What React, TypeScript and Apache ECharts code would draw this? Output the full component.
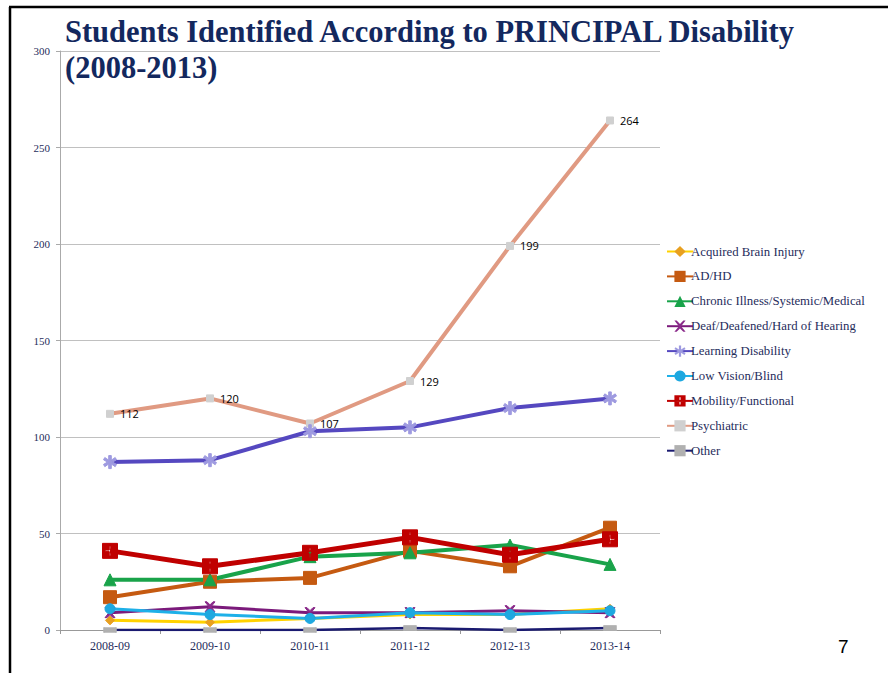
import React, { useEffect, useRef } from "react";
import * as echarts from "echarts";

const categories = ["2008-09", "2009-10", "2010-11", "2011-12", "2012-13", "2013-14"];
const yTicks = { min: 0, max: 300, interval: 50 };

const acquiredBrainInjury = [5, 4, 6, 8, 8, 11];
const adhd = [17, 25, 27, 41, 33, 53];
const chronicIllness = [26, 26, 38, 40, 44, 34];
const deaf = [9, 12, 9, 9, 10, 9];
const learningDisability = [87, 88, 103, 105, 115, 120];
const lowVision = [11, 8, 6, 9, 8, 10];
const mobility = [41, 33, 40, 48, 39, 47];
const psychiatric = [112, 120, 107, 129, 199, 264];
const other = [0, 0, 0, 1, 0, 1];

const seriesNames = [
  "Acquired Brain Injury",
  "AD/HD",
  "Chronic Illness/Systemic/Medical",
  "Deaf/Deafened/Hard of Hearing",
  "Learning Disability",
  "Low Vision/Blind",
  "Mobility/Functional",
  "Psychiatric",
  "Other",
];

const crossSquare =
  "path://M0,0L14,0L14,14L0,14Z M6.3,2.5L6.3,6.3L2.5,6.3L2.5,7.7L6.3,7.7L6.3,11.5L7.7,11.5L7.7,7.7L11.5,7.7L11.5,6.3L7.7,6.3L7.7,2.5Z";

export default function App() {
  const ref = useRef<HTMLDivElement>(null);
  useEffect(() => {
    if (!ref.current) return;
    const chart = echarts.init(ref.current, undefined, { renderer: "svg" });
    const serif = "'Liberation Serif', 'DejaVu Serif', serif";
    const navy = "#1f2d5c";
    const mk = (
      name: string,
      data: number[],
      color: string,
      width: number,
      symbol: string,
      symbolSize: any,
      symbolColor: string,
      extra: any = {}
    ) => ({
      name,
      type: "line",
      data,
      lineStyle: { color, width },
      itemStyle: { color: symbolColor, borderColor: symbolColor },
      symbol,
      symbolSize,
      showSymbol: true,
      z: 2,
      ...extra,
    });
    chart.setOption({
      animation: false,
      backgroundColor: "#fff",
      title: {
        text: "Students Identified According to PRINCIPAL Disability\n(2008-2013)",
        left: 60,
        top: 9,
        textStyle: {
          fontFamily: serif,
          fontSize: 30.5,
          fontWeight: "bold",
          color: "#13285e",
          lineHeight: 36,
        },
      },
      graphic: [
        { type: "line", shape: { x1: 10, y1: 7, x2: 10, y2: 673 }, style: { stroke: "#000", lineWidth: 2.5 } },
        { type: "line", shape: { x1: 9, y1: 7, x2: 888, y2: 7 }, style: { stroke: "#000", lineWidth: 2.5 } },
        { type: "text", left: 838, top: 637, style: { text: "7", fontSize: 19, fill: "#000", fontFamily: "'Liberation Sans', sans-serif" } },
      ],
      legend: {
        orient: "vertical",
        left: 661,
        top: 240,
        itemGap: 11.9,
        itemWidth: 26,
        itemHeight: 14,
        data: seriesNames,
        textStyle: { fontFamily: serif, fontSize: 12.8, color: navy, padding: [0, 0, 0, -7] },
      },
      grid: { left: 60, right: 228, top: 51, bottom: 43, containLabel: false },
      xAxis: {
        type: "category",
        data: categories,
        boundaryGap: true,
        axisLine: { show: true, lineStyle: { color: "#999", width: 1 } },
        axisTick: { show: true, length: 4, lineStyle: { color: "#999" } },
        axisLabel: { fontFamily: serif, fontSize: 12, color: navy, margin: 10 },
      },
      yAxis: {
        type: "value",
        min: yTicks.min,
        max: yTicks.max,
        interval: yTicks.interval,
        axisLine: { show: true, lineStyle: { color: "#aaa" } },
        axisTick: { show: true, length: 4, lineStyle: { color: "#aaa" } },
        splitLine: { show: true, lineStyle: { color: "#c0c0c0", width: 1 } },
        axisLabel: { fontFamily: serif, fontSize: 11, color: navy, margin: 10 },
      },
      series: [
        mk(seriesNames[0], acquiredBrainInjury, "#ffd200", 3, "diamond", 9, "#e8a020"),
        mk(seriesNames[1], adhd, "#c55a11", 4, "rect", 13, "#c55a11"),
        mk(seriesNames[2], chronicIllness, "#19a34a", 4, "triangle", 12, "#19a34a"),
        mk(seriesNames[3], deaf, "#7b1a7b", 3, "path://M0,0L2,0L5,3L8,0L10,0L6,5L10,10L8,10L5,7L2,10L0,10L4,5Z", 10, "#8a2a8a"),
        mk(seriesNames[4], learningDisability, "#5548c0", 4, "path://M4,0L6,0L6,3.5L9,1.5L10,3.2L7,5L10,6.8L9,8.5L6,6.5L6,10L4,10L4,6.5L1,8.5L0,6.8L3,5L0,3.2L1,1.5L4,3.5Z", 13, "#9e9ae0"),
        mk(seriesNames[5], lowVision, "#1eb0e8", 3, "circle", 10, "#1ea8e0"),
        mk(seriesNames[6], mobility, "#c00000", 5, crossSquare, 15, "#c00000"),
        mk(seriesNames[7], psychiatric, "#e09a82", 4, "rect", 7, "#d0d0d0", {
          label: {
            show: true,
            position: "right",
            distance: 6,
            color: "#000",
            fontSize: 11,
            fontFamily: "'Open Sans', 'Liberation Sans', sans-serif",
          },
          z: 1,
        }),
        mk(seriesNames[8], other, "#1a1a70", 2.5, "rect", [12, 5], "#b0b0b0"),
      ],
    });
    return () => chart.dispose();
  }, []);
  return (
    <div
      ref={ref}
      style={{ position: "absolute", left: 0, top: 0, width: 888, height: 673 }}
    />
  );
}
